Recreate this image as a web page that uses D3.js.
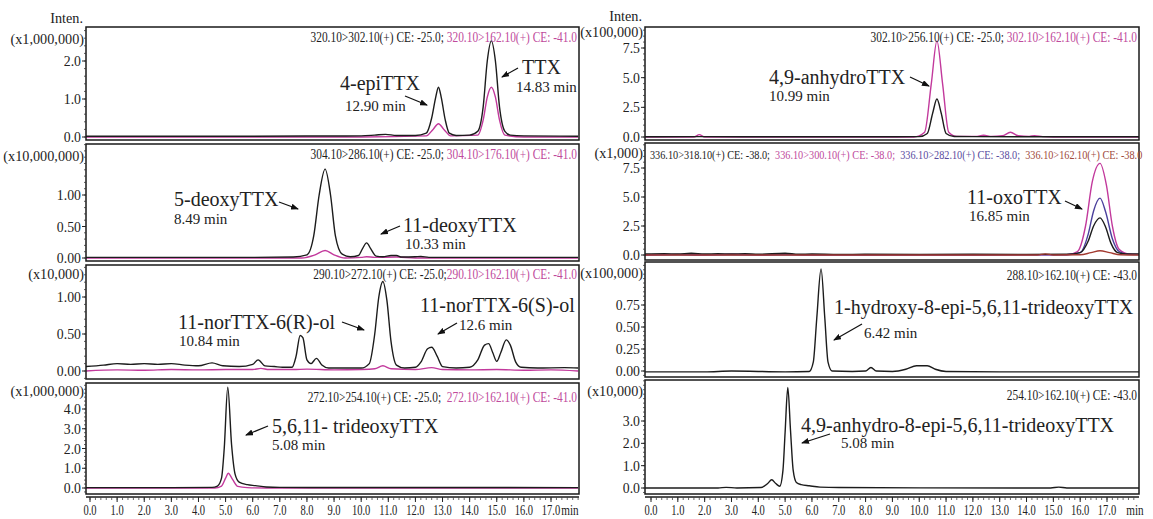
<!DOCTYPE html>
<html>
<head>
<meta charset="utf-8">
<script src="https://cdn.jsdelivr.net/npm/d3@7"></script>
<style>
body { margin: 0; background: #fff; }
svg { display: block; }
text { font-family: "Liberation Serif", "DejaVu Serif", serif; fill: #222; }
</style>
</head>
<body>
<svg width="1153" height="519"></svg>
<script>
// ---- data: [retention time (min), intensity in panel units] ----
// left column
const ttxBlack = [[-0.15,0.02],[2,0.02],[5,0.02],[8,0.025],[10,0.03],[10.5,0.05],[10.9,0.07],[11.3,0.04],[12,0.04],[12.4,0.1],[12.6,0.5],[12.75,1.05],[12.85,1.31],[12.95,1.05],[13.1,0.45],[13.25,0.1],[13.5,0.04],[14,0.05],[14.3,0.15],[14.5,0.8],[14.65,2.0],[14.8,2.53],[14.95,2.0],[15.1,0.8],[15.3,0.15],[15.5,0.05],[16,0.03],[18,0.02]];
const ttxPink = [[-0.15,0],[10,0],[12.4,0.03],[12.65,0.2],[12.85,0.35],[13.05,0.2],[13.3,0.03],[14.3,0.05],[14.5,0.45],[14.65,1.05],[14.8,1.31],[14.95,1.05],[15.1,0.45],[15.3,0.05],[16,0],[18,0]];

const deoxyBlack = [[-0.15,0.01],[6,0.01],[7.5,0.015],[8.0,0.05],[8.25,0.35],[8.45,1.0],[8.67,1.41],[8.87,1.0],[9.05,0.35],[9.3,0.06],[9.6,0.02],[9.9,0.04],[10.05,0.15],[10.2,0.24],[10.35,0.15],[10.55,0.03],[10.8,0.02],[11.1,0.04],[11.3,0.04],[11.5,0.015],[12.0,0.02],[12.2,0.025],[12.5,0.01],[18,0.01]];
const deoxyPink = [[-0.15,0],[7.8,0],[8.3,0.05],[8.67,0.12],[9.0,0.05],[9.4,0],[10.0,0.01],[10.2,0.02],[10.5,0.01],[11.3,0.015],[12,0],[18,0]];

const norBlack = [[-0.15,0.06],[0.5,0.08],[1.0,0.1],[1.5,0.09],[2.0,0.1],[2.5,0.09],[3.0,0.1],[3.5,0.08],[4.0,0.07],[4.5,0.11],[4.9,0.07],[5.5,0.06],[6.0,0.09],[6.2,0.15],[6.45,0.07],[6.8,0.06],[7.1,0.05],[7.45,0.05],[7.6,0.2],[7.75,0.48],[7.85,0.45],[8.0,0.15],[8.15,0.1],[8.35,0.17],[8.55,0.08],[8.8,0.04],[9.5,0.04],[10.0,0.04],[10.3,0.1],[10.5,0.5],[10.65,1.0],[10.8,1.21],[10.95,0.95],[11.1,0.4],[11.3,0.08],[11.6,0.04],[12.0,0.05],[12.2,0.12],[12.45,0.3],[12.6,0.32],[12.8,0.2],[13.0,0.06],[13.5,0.04],[14.0,0.05],[14.3,0.15],[14.55,0.35],[14.7,0.37],[14.85,0.25],[15.0,0.13],[15.15,0.25],[15.35,0.42],[15.5,0.35],[15.7,0.12],[15.9,0.05],[16.5,0.04],[17.5,0.045],[18,0.04]];
const norPink = [[-0.15,0],[1,0.015],[2,0.01],[3,0.02],[4,0.015],[5,0.02],[6,0.02],[6.3,0.035],[6.6,0.02],[7.5,0.02],[8.0,0.025],[9,0.015],[10,0.02],[10.5,0.03],[10.8,0.07],[11.1,0.03],[12.0,0.02],[12.6,0.045],[13.0,0.02],[14,0.015],[15,0.02],[16,0.01],[17,0.015],[18,0]];

const trideoxyBlack = [[-0.15,0.02],[3,0.02],[4.5,0.03],[4.7,0.1],[4.85,0.5],[4.95,2.0],[5.08,5.1],[5.22,2.2],[5.35,0.7],[5.5,0.3],[5.8,0.17],[6.1,0.12],[6.5,0.05],[7,0.03],[18,0.02]];
const trideoxyPink = [[-0.15,0],[4.6,0],[4.85,0.1],[5.0,0.5],[5.1,0.75],[5.25,0.45],[5.45,0.08],[5.8,0.02],[6.5,0],[18,0]];

// right column
const anhydroBlack = [[-0.22,0.02],[1.8,0.03],[5,0.02],[9,0.02],[10.0,0.03],[10.3,0.3],[10.5,2.0],[10.66,3.2],[10.82,2.0],[11.0,0.3],[11.3,0.04],[12,0.03],[14,0.02],[18.2,0.02]];
const anhydroPink = [[-0.22,0],[1.6,0],[1.8,0.2],[2.0,0],[9.8,0],[10.2,0.4],[10.45,4.5],[10.66,8.1],[10.87,4.5],[11.1,0.4],[11.4,0.05],[12.1,0.05],[12.4,0.15],[12.7,0.05],[13.1,0.1],[13.4,0.4],[13.7,0.1],[14.1,0.05],[14.3,0.12],[14.6,0.03],[15,0],[18.2,0]];

const oxoBlack = [[-0.22,0.08],[0.5,0.12],[1,0.08],[1.5,0.15],[2,0.08],[2.5,0.12],[3,0.08],[3.5,0.12],[4,0.06],[5,0.15],[5.5,0.06],[6,0.08],[7,0.05],[8,0.06],[10,0.05],[12,0.06],[14,0.05],[15.5,0.06],[16.0,0.2],[16.3,1.2],[16.5,2.5],[16.74,3.2],[16.95,2.4],[17.15,1.0],[17.4,0.2],[17.7,0.1],[18.2,0.1]];
const oxoPink = [[-0.22,0],[1,0.05],[2,0],[3,0.06],[4,0],[5,0.05],[6,0],[10,0],[15.5,0.02],[15.9,0.3],[16.2,2.5],[16.45,6.3],[16.74,7.9],[16.98,6.0],[17.2,2.5],[17.45,0.5],[17.8,0.1],[18.2,0.05]];
const oxoBlue = [[-0.22,0.02],[15.5,0.02],[16.0,0.2],[16.3,1.8],[16.5,3.8],[16.74,4.9],[16.95,3.7],[17.2,1.4],[17.45,0.3],[17.8,0.05],[18.2,0.03]];
const oxoBrown = [[-0.22,0],[14.4,0],[14.7,0.1],[15.0,0],[16.0,0.02],[16.4,0.2],[16.74,0.37],[17.1,0.2],[17.5,0.02],[18.2,0]];

const hydroxyBlack = [[-0.22,-0.01],[2,-0.01],[3,0],[5,-0.01],[5.9,-0.005],[6.05,0.1],[6.18,0.6],[6.34,1.16],[6.48,0.6],[6.6,0.1],[6.75,0],[7.5,-0.005],[8.0,0],[8.2,0.04],[8.4,0],[9.0,-0.005],[9.5,0.02],[9.9,0.06],[10.3,0.06],[10.6,0.02],[11,-0.005],[13,-0.01],[18.2,-0.01]];

const anhydroEpiBlack = [[-0.22,0],[2.5,0],[2.8,0.03],[3.2,0],[4.1,0.02],[4.35,0.2],[4.5,0.37],[4.65,0.2],[4.8,0.08],[4.92,0.8],[5.0,2.5],[5.1,4.5],[5.2,2.6],[5.3,0.8],[5.42,0.25],[5.6,0.15],[5.9,0.1],[6.3,0.04],[7,0.02],[14.9,0],[15.2,0.04],[15.5,0],[18.2,0]];

// axis ticks
const xTickValues = d3.range(0, 18);
const yTicksL1 = [0, 1, 2];
const yTicksL2 = [0, 0.5, 1];
const yTicksL3 = [0, 0.5, 1];
const yTicksL4 = [0, 1, 2, 3, 4];
const yTicksR1 = [0, 2.5, 5, 7.5];
const yTicksR2 = [0, 2.5, 5, 7.5];
const yTicksR3 = [0, 0.25, 0.5, 0.75];
const yTicksR4 = [0, 1, 2, 3];

const BLACK = "#1c1c1c", PINK = "#c2399c", BLUE = "#4a3f9c", BROWN = "#a23a30";
const HPINK = "#c04a9c", HBLUE = "#5a4c9e", HBROWN = "#a04a3c";

// ---- layout ----
const svg = d3.select("svg");
const cols = [
  {x0: 86, x1: 579, x: d3.scaleLinear().domain([0, 17]).range([90, 551]), minX: 570},
  {x0: 645, x1: 1139, x: d3.scaleLinear().domain([0, 17]).range([651, 1107]), minX: 1135}
];

const panels = [
  {c:0, top:27, bot:140, zero:137, ref:[2,61], ticks:yTicksL1, fmt:".1f", unit:"(x1,000,000)", unitY:44, inten:true,
   header:[["320.10>302.10(+) CE: -25.0; ",BLACK],["320.10>162.10(+) CE: -41.0",HPINK]], hy:42,
   traces:[[ttxPink,PINK],[ttxBlack,BLACK]]},
  {c:0, top:144, bot:261, zero:258, ref:[1,195], ticks:yTicksL2, fmt:".2f", unit:"(x10,000,000)", unitY:161,
   header:[["304.10>286.10(+) CE: -25.0; ",BLACK],["304.10>176.10(+) CE: -41.0",HPINK]], hy:159,
   traces:[[deoxyPink,PINK],[deoxyBlack,BLACK]]},
  {c:0, top:265, bot:379, zero:371, ref:[1,297], ticks:yTicksL3, fmt:".2f", unit:"(x10,000)", unitY:279,
   header:[["290.10>272.10(+) CE: -25.0;",BLACK],["290.10>162.10(+) CE: -41.0",HPINK]], hy:279,
   traces:[[norPink,PINK],[norBlack,BLACK]]},
  {c:0, top:383, bot:494, zero:488, ref:[4,409], ticks:yTicksL4, fmt:".1f", unit:"(x1,000,000)", unitY:396,
   header:[["272.10>254.10(+) CE: -25.0;  ",BLACK],["272.10>162.10(+) CE: -41.0",HPINK]], hy:402,
   traces:[[trideoxyPink,PINK],[trideoxyBlack,BLACK]]},
  {c:1, top:27, bot:140, zero:137, ref:[7.5,48], ticks:yTicksR1, fmt:".1f", unit:"(x100,000)", unitY:37, inten:true, intenY:21,
   header:[["302.10>256.10(+) CE: -25.0; ",BLACK],["302.10>162.10(+) CE: -41.0",HPINK]], hy:42,
   traces:[[anhydroPink,PINK],[anhydroBlack,BLACK]]},
  {c:1, top:143, bot:260, zero:255, ref:[7.5,168], ticks:yTicksR2, fmt:".1f", unit:"(x1,000)", unitY:158, left:true, hsize:13.5, hscale:0.76,
   header:[["336.10>318.10(+) CE: -38.0;  ",BLACK],["336.10>300.10(+) CE: -38.0;  ",HPINK],["336.10>282.10(+) CE: -38.0;  ",HBLUE],["336.10>162.10(+) CE: -38.0",HBROWN]], hy:159,
   traces:[[oxoPink,PINK],[oxoBlue,BLUE],[oxoBlack,BLACK],[oxoBrown,BROWN]]},
  {c:1, top:262, bot:377, zero:371, ref:[0.75,305], ticks:yTicksR3, fmt:".2f", unit:"(x100,000)", unitY:278,
   header:[["288.10>162.10(+) CE: -43.0",BLACK]], hy:280,
   traces:[[hydroxyBlack,BLACK]]},
  {c:1, top:380, bot:494, zero:488, ref:[3,421], ticks:yTicksR4, fmt:".1f", unit:"(x10,000)", unitY:396,
   header:[["254.10>162.10(+) CE: -43.0",BLACK]], hy:400,
   traces:[[anhydroEpiBlack,BLACK]]}
];

// compound labels: [text, x, y, size]
const labels = [
  ["4-epiTTX", 340, 90, 20], ["12.90 min", 345, 111, 15],
  ["TTX", 522, 74, 20], ["14.83 min", 516, 92, 15],
  ["5-deoxyTTX", 174, 206, 20], ["8.49 min", 174, 224, 15],
  ["11-deoxyTTX", 403, 232, 20], ["10.33 min", 405, 249, 15],
  ["11-norTTX-6(R)-ol", 178, 329, 20], ["10.84 min", 179, 346, 15],
  ["11-norTTX-6(S)-ol", 420, 312, 20], ["12.6 min", 459, 330, 15],
  ["5,6,11- trideoxyTTX", 272, 433, 20], ["5.08 min", 272, 450, 15],
  ["4,9-anhydroTTX", 769, 84, 20], ["10.99 min", 769, 101, 15],
  ["11-oxoTTX", 967, 204, 20], ["16.85 min", 969, 221, 15],
  ["1-hydroxy-8-epi-5,6,11-trideoxyTTX", 834, 314, 20], ["6.42 min", 864, 338, 15],
  ["4,9-anhydro-8-epi-5,6,11-trideoxyTTX", 801, 432, 20], ["5.08 min", 841, 448, 15]
];
const arrows = [
  [405, 96, 427, 105], [518, 68, 502, 77],
  [279, 202, 298, 209], [400, 226, 381, 234],
  [342, 322, 364, 330], [457, 323, 438, 334],
  [268, 426, 246, 435],
  [910, 77, 929, 86], [1065, 201, 1082, 209],
  [862, 324, 834, 340], [830, 434, 802, 443]
];

svg.append("defs").append("marker")
  .attr("id", "head").attr("markerUnits", "userSpaceOnUse")
  .attr("markerWidth", 8).attr("markerHeight", 6)
  .attr("refX", 7).attr("refY", 3).attr("orient", "auto")
  .append("path").attr("d", "M0,0 L8,3 L0,6 Z").attr("fill", "#111");

panels.forEach((p, i) => {
  const col = cols[p.c];
  const x = col.x;
  const y = d3.scaleLinear().domain([0, p.ref[0]]).range([p.zero, p.ref[1]]);
  const g = svg.append("g");

  g.append("clipPath").attr("id", "clip" + i)
    .append("rect").attr("x", col.x0).attr("y", p.top).attr("width", col.x1 - col.x0).attr("height", p.bot - p.top);

  const line = d3.line().x(d => x(d[0])).y(d => y(d[1])).curve(d3.curveMonotoneX);
  p.traces.forEach(([data, color]) => {
    g.append("path").attr("d", line(data)).attr("fill", "none")
      .attr("stroke", color).attr("stroke-width", 1.4).attr("clip-path", `url(#clip${i})`);
  });

  g.append("rect").attr("x", col.x0).attr("y", p.top).attr("width", col.x1 - col.x0).attr("height", p.bot - p.top)
    .attr("fill", "none").attr("stroke", "#1a1a1a").attr("stroke-width", 1.5);

  // y ticks + minor ticks
  const step = p.ticks[1] - p.ticks[0];
  const lo = y.invert(p.bot), hi = y.invert(p.top);
  const minor = d3.range(Math.ceil(lo / (step / 5)), Math.floor(hi / (step / 5)) + 1).map(k => k * step / 5);
  g.selectAll(".mn").data(minor).join("line")
    .attr("x1", col.x0 - 2).attr("x2", col.x0).attr("y1", d => y(d)).attr("y2", d => y(d))
    .attr("stroke", "#333").attr("stroke-width", 0.8);
  g.selectAll(".mj").data(p.ticks).join("line")
    .attr("x1", col.x0 - 4).attr("x2", col.x0).attr("y1", d => y(d)).attr("y2", d => y(d))
    .attr("stroke", "#222").attr("stroke-width", 1);
  g.selectAll(".tl").data(p.ticks).join("text")
    .attr("transform", d => `translate(${col.x0 - 5},${y(d) + 5}) scale(0.92,1)`)
    .attr("text-anchor", "end").attr("font-size", 15).text(d => d3.format(p.fmt)(d));

  g.append("text").attr("transform", `translate(${col.x0 - 2},${p.unitY}) scale(0.95,1)`)
    .attr("text-anchor", "end").attr("font-size", 15).text(p.unit);
  if (p.inten) {
    g.append("text").attr("transform", `translate(${col.x0 - 3},${p.intenY || 23}) scale(0.95,1)`)
      .attr("text-anchor", "end").attr("font-size", 15).text("Inten.");
  }

  // header with transitions
  const hs = p.hscale || 0.76;
  const hx = p.left ? col.x0 + 5 : col.x1 - 2;
  const ht = g.append("text")
    .attr("transform", `translate(${hx},${p.hy}) scale(${hs},1)`)
    .attr("text-anchor", p.left ? "start" : "end")
    .attr("font-size", p.hsize || 15)
    .attr("xml:space", "preserve");
  p.header.forEach(([t, c]) => ht.append("tspan").attr("fill", c).text(t));
});

// x axes
cols.forEach(col => {
  const ax = svg.append("g");
  const y0 = 497;
  ax.append("line").attr("x1", col.x0).attr("x2", col.x1).attr("y1", y0).attr("y2", y0)
    .attr("stroke", "#1a1a1a").attr("stroke-width", 1.5);
  const minor = d3.range(0, 92).map(k => k * 0.2).filter(v => col.x(v) <= col.x1);
  ax.selectAll(".mn").data(minor).join("line")
    .attr("x1", d => col.x(d)).attr("x2", d => col.x(d)).attr("y1", y0).attr("y2", y0 + 3)
    .attr("stroke", "#444").attr("stroke-width", 0.8);
  ax.selectAll(".mj").data(xTickValues).join("line")
    .attr("x1", d => col.x(d)).attr("x2", d => col.x(d)).attr("y1", y0).attr("y2", y0 + 5)
    .attr("stroke", "#222").attr("stroke-width", 1);
  ax.selectAll(".tl").data(xTickValues).join("text")
    .attr("transform", d => `translate(${col.x(d)},515) scale(0.75,1)`)
    .attr("text-anchor", "middle").attr("font-size", 14)
    .text(d => d3.format(".1f")(d));
  ax.append("text").attr("transform", `translate(${col.minX},515) scale(0.8,1)`)
    .attr("text-anchor", "middle").attr("font-size", 14).text("min");
});

// compound labels and arrows
svg.selectAll(".lab").data(labels).join("text")
  .attr("x", d => d[1]).attr("y", d => d[2]).attr("font-size", d => d[3]).text(d => d[0]);
svg.selectAll(".arr").data(arrows).join("line")
  .attr("x1", d => d[0]).attr("y1", d => d[1]).attr("x2", d => d[2]).attr("y2", d => d[3])
  .attr("stroke", "#111").attr("stroke-width", 1.3).attr("marker-end", "url(#head)");
</script>
</body>
</html>
